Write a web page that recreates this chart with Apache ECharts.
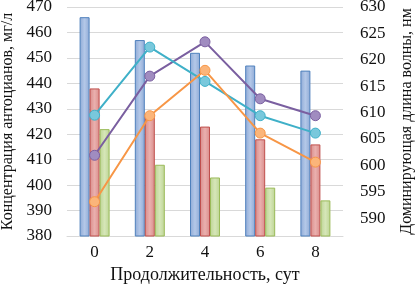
<!DOCTYPE html>
<html>
<head>
<meta charset="utf-8">
<script src="https://cdn.jsdelivr.net/npm/echarts@6/dist/echarts.min.js"></script>
<style>
  html, body { margin: 0; padding: 0; background: #fff; }
  #chart { width: 417px; height: 296px; }
</style>
</head>
<body>
<div id="chart"></div>
<script>
const days = ['0', '2', '4', '6', '8']
// bars, left axis (мг/л)
const barBlue = [466, 457, 452, 447, 445]
const barRed = [438, 428, 423, 418, 416]
const barGreen = [422, 408, 403, 399, 394]
// lines, right axis (нм)
const linePurple = [601.9, 616.9, 623.4, 612.6, 609.4]
const lineCyan = [609.5, 622.4, 615.9, 609.4, 606.1]
const lineOrange = [593.1, 609.4, 618.0, 606.1, 600.6]
const rightTicks = [590, 595, 600, 605, 610, 615, 620, 625, 630]

const font = '"Liberation Serif", "DejaVu Serif", serif'

const chart = echarts.init(document.getElementById('chart'))

function barGrad(light, mid) {
  return new echarts.graphic.LinearGradient(0, 0, 1, 0, [
    {offset: 0, color: mid},
    {offset: 0.5, color: light},
    {offset: 1, color: mid}
  ])
}

function barSeries(data, fill, light, border) {
  return {
    type: 'bar',
    yAxisIndex: 0,
    barWidth: 10,
    barGap: '0%',
    itemStyle: {
      color: barGrad(light, fill),
      borderColor: border,
      borderWidth: 1
    },
    data: data
  }
}

function lineSeries(data, color, fill) {
  return {
    type: 'line',
    yAxisIndex: 1,
    symbol: 'circle',
    symbolSize: 10,
    lineStyle: {color: color, width: 2},
    itemStyle: {color: fill, borderColor: color, borderWidth: 1},
    data: data
  }
}

const option = {
  animation: false,
  grid: {left: 67, right: 74, top: 7, bottom: 60, outerBoundsMode: 'none'},
  xAxis: {
    type: 'category',
    data: days,
    name: 'Продолжительность, сут',
    nameLocation: 'middle',
    nameGap: 29,
    nameTextStyle: {fontFamily: font, fontSize: 18, color: '#111'},
    axisLine: {show: true, lineStyle: {color: '#d9d9d9'}},
    axisTick: {show: false},
    axisLabel: {fontFamily: font, fontSize: 17, color: '#111', margin: 8}
  },
  yAxis: [
    {
      type: 'value',
      min: 380,
      max: 470,
      interval: 10,
      name: 'Концентрация антоцианов, мг/л',
      nameLocation: 'middle',
      nameGap: 48,
      nameTextStyle: {fontFamily: font, fontSize: 16, color: '#111'},
      axisLine: {show: false},
      axisTick: {show: false},
      axisLabel: {fontFamily: font, fontSize: 17, color: '#111', margin: 15},
      splitLine: {lineStyle: {color: '#d9d9d9', width: 1}}
    },
    {
      type: 'value',
      min: 586.6,
      max: 630,
      name: 'Доминирующая длина волны, нм',
      nameLocation: 'middle',
      nameGap: 56,
      nameRotate: 90,
      nameTextStyle: {fontFamily: font, fontSize: 16, color: '#111'},
      axisLine: {show: false},
      axisTick: {show: false},
      axisLabel: {
        fontFamily: font, fontSize: 17, color: '#111', margin: 17,
        customValues: rightTicks
      },
      splitLine: {show: false}
    }
  ],
  series: [
    barSeries(barBlue, '#8eaad6', '#b4c8e8', '#4f81bd'),
    barSeries(barRed, '#d98c8a', '#eab0ae', '#c0504d'),
    barSeries(barGreen, '#bcd493', '#d6e6b8', '#9bbb59'),
    lineSeries(linePurple, '#7a5fa0', '#a08cc0'),
    lineSeries(lineCyan, '#3fb0c8', '#79c8dc'),
    lineSeries(lineOrange, '#f79646', '#fbb57a')
  ]
}

chart.setOption(option)
</script>
</body>
</html>
